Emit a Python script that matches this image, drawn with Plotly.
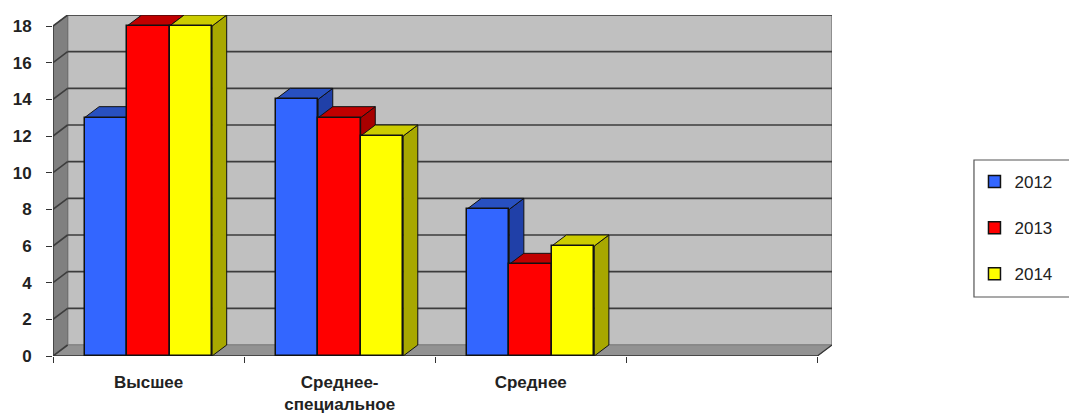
import plotly.graph_objects as go

categories = ["Высшее", "Среднее-<br>специальное", "Среднее", ""]
years = ["2012", "2013", "2014"]
values_2012 = [13, 14, 8]
values_2013 = [18, 13, 5]
values_2014 = [18, 12, 6]
y_ticks = [0, 2, 4, 6, 8, 10, 12, 14, 16, 18]

series = [values_2012, values_2013, values_2014]
front = ["#3366FF", "#FF0000", "#FFFF00"]
side = ["#2040A8", "#A80000", "#A8A800"]
top = ["#2850C0", "#C00000", "#CCCC00"]

# Pseudo-3D geometry in axis units
DX, DY = 14.6 / 191, 11 / 18.33
BAR_W = 0.2225
GROUP_START = 0.165
YMAX = y_ticks[-1]
NCAT = len(categories)


def poly(pts):
    return "M " + " L ".join(f"{x:.4f} {y:.4f}" for x, y in pts) + " Z"


def path_shape(pts, fill, line="#111111", width=1.0):
    return dict(type="path", path=poly(pts), xref="x", yref="y", layer="below",
                fillcolor=fill, line=dict(color=line, width=width))


def seg(x0, y0, x1, y1, color="#3c3c3c", width=1.6):
    return dict(type="line", x0=x0, y0=y0, x1=x1, y1=y1, xref="x", yref="y",
                layer="below", line=dict(color=color, width=width))


shapes = []
# Walls and floor
shapes.append(path_shape([(DX, DY), (NCAT + DX, DY), (NCAT + DX, YMAX + DY), (DX, YMAX + DY)],
                         "#C0C0C0", "#808080", 1.5))
shapes.append(path_shape([(0, 0), (DX, DY), (DX, YMAX + DY), (0, YMAX)], "#808080", "#707070", 1))
shapes.append(path_shape([(0, 0), (NCAT, 0), (NCAT + DX, DY), (DX, DY)], "#929292", "#808080", 1))
# Gridlines on the back wall, continued across the side wall
for v in y_ticks[1:]:
    shapes.append(seg(DX, v + DY, NCAT + DX, v + DY))
    shapes.append(seg(0, v, DX, v + DY))
shapes.append(seg(0, 0, DX, DY))
# Front edges
shapes.append(seg(0, 0, 0, YMAX, "#333333", 1.4))
shapes.append(seg(0, 0, NCAT, 0, "#333333", 1.6))
shapes.append(seg(NCAT, 0, NCAT + DX, DY, "#333333", 1.2))

# Side and top faces of every bar, painted left to right under the front faces
xs = {}
for s, vals in enumerate(series):
    xs[s] = [c + GROUP_START + (s + 0.5) * BAR_W for c in range(len(vals))]
for c in range(len(values_2012)):
    for s, vals in enumerate(series):
        v = vals[c]
        x0 = xs[s][c] - BAR_W / 2
        x1 = xs[s][c] + BAR_W / 2
        shapes.append(path_shape([(x1, 0), (x1 + DX, DY), (x1 + DX, v + DY), (x1, v)], side[s]))
        shapes.append(path_shape([(x0, v), (x1, v), (x1 + DX, v + DY), (x0 + DX, v + DY)], top[s]))

# Legend frame
L, W, H, MT = 53, 778.6, 341, 15
BOTTOM = MT + H
shapes.append(dict(type="rect", xref="paper", yref="paper", layer="below",
                   x0=(973.5 - L) / W, x1=(1080 - L) / W,
                   y0=(BOTTOM - 297) / H, y1=(BOTTOM - 160) / H,
                   fillcolor="white", line=dict(color="#555555", width=1.2)))

fig = go.Figure()
for s, vals in enumerate(series):
    fig.add_trace(go.Bar(
        x=xs[s], y=vals, width=BAR_W, name=years[s], legendgroup=years[s],
        marker=dict(color=front[s], line=dict(color="#111111", width=1.5)),
        cliponaxis=False,
    ))

FONT = "Liberation Sans"
fig.update_layout(
    width=1069, height=415,
    margin=dict(l=L, r=1069 - L - W, t=MT, b=415 - MT - H, autoexpand=False),
    paper_bgcolor="white", plot_bgcolor="white",
    barmode="overlay", shapes=shapes, bargap=0,
    font=dict(family=FONT, color="#222222"),
    legend=dict(
        x=(974 - L) / W, xanchor="left", y=(BOTTOM - 164) / H, yanchor="top",
        traceorder="grouped", tracegroupgap=21,
        bgcolor="rgba(0,0,0,0)", borderwidth=0,
        font=dict(family=FONT, size=17, color="#222222"),
    ),
    xaxis=dict(
        range=[0, NCAT + DX],
        tickmode="array",
        tickvals=[c + 0.5 for c in range(NCAT)],
        ticktext=categories,
        ticks="", showgrid=False, zeroline=False, showline=False,
        ticklabelstandoff=14,
        tickfont=dict(family=FONT, size=17, color="#222222", weight="bold"),
        minor=dict(tickmode="array", tickvals=list(range(NCAT + 1)), ticks="outside",
                   ticklen=6, tickwidth=1.2, tickcolor="#333333", showgrid=False),
    ),
    yaxis=dict(
        range=[0, YMAX + DY],
        tickmode="array", tickvals=y_ticks,
        ticks="outside", ticklen=6, tickwidth=1.2, tickcolor="#333333",
        showgrid=False, zeroline=False, showline=False,
        ticklabelstandoff=11,
        tickfont=dict(family=FONT, size=17, color="#222222", weight="bold"),
    ),
)

fig.write_html("out.html", config={"displayModeBar": False},
               post_script="document.body.style.margin='0';")
